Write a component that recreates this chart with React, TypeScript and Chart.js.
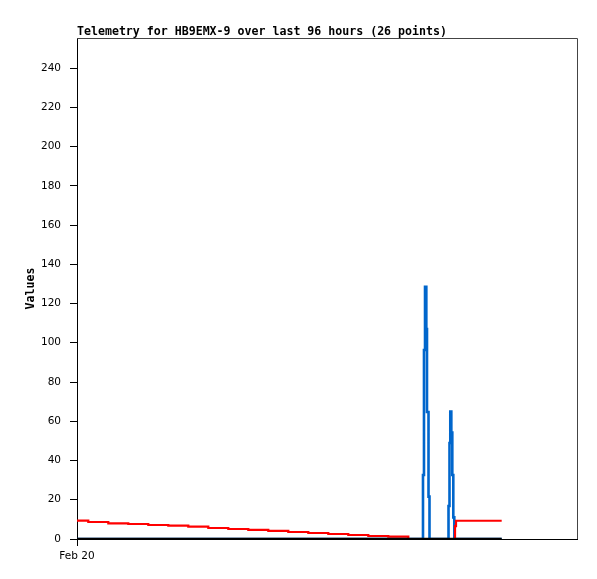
import React, { useEffect, useRef } from 'react';
import { Chart, registerables } from 'chart.js';

Chart.register(...registerables);

const TITLE = 'Telemetry for HB9EMX-9 over last 96 hours (26 points)';
const Y_TITLE = 'Values';
const X_TICK_LABEL = 'Feb 20';

const X_MIN = 0;
const X_MAX = 96;
const Y_MIN = 0;
const Y_MAX = 255.3;
const Y_STEP = 20;
const X_TICKS = [0];

// hours since Feb 20 00:00, step values (value holds until the next point)
const redHours = [0, 2.17, 6.01, 9.85, 13.69, 17.53, 21.37, 25.21, 29.05, 32.89, 36.73, 40.57, 44.41, 48.25, 52.09, 55.93, 59.77, 63.61, 72.58, 72.77, 81.54];
const redValues = [9.33, 8.66, 8.0, 7.64, 7.13, 6.8, 6.28, 5.6, 5.1, 4.6, 4.1, 3.57, 3.06, 2.55, 2.04, 1.53, 1.2, 0, 6.6, 9.3, 9.3];

const blueHours = [0, 66.43, 66.62, 66.82, 67.07, 67.2, 67.49, 67.68, 71.33, 71.52, 71.67, 71.87, 72.06, 72.25, 72.44, 81.54];
const blueValues = [0, 32.6, 96.3, 128.5, 107, 64.7, 21.6, 0, 16.8, 48.9, 64.9, 54.2, 32.6, 11, 0, 0];

const blackHours = [0, 81.54];
const blackValues = [0, 0];

const toPoints = (xs: number[], ys: number[]) => xs.map((x, i) => ({ x, y: ys[i] }));

const decor = {
  id: 'decor',
  afterDraw(chart: any) {
    const { ctx, chartArea: a } = chart;
    ctx.save();
    ctx.strokeStyle = '#444';
    ctx.lineWidth = 1;
    ctx.beginPath();
    ctx.moveTo(a.left, Math.round(a.top) + 0.5);
    ctx.lineTo(Math.round(a.right) + 0.5, Math.round(a.top) + 0.5);
    ctx.lineTo(Math.round(a.right) + 0.5, a.bottom);
    ctx.stroke();
    ctx.fillStyle = '#000';
    ctx.font = 'bold 11.6px "DejaVu Sans Mono"';
    ctx.textAlign = 'left';
    ctx.textBaseline = 'alphabetic';
    ctx.fillText(TITLE, a.left, 35);
    ctx.translate(31, (a.top + a.bottom) / 2);
    ctx.rotate(-Math.PI / 2);
    ctx.textAlign = 'center';
    ctx.textBaseline = 'middle';
    ctx.fillText(Y_TITLE, 0, 0);
    ctx.restore();
  },
};

export default function App() {
  const ref = useRef<HTMLCanvasElement | null>(null);
  useEffect(() => {
    if (!ref.current) return;
    const tickFont = { family: '"DejaVu Sans"', size: 10.5 };
    const chart = new Chart(ref.current, {
      type: 'line',
      data: {
        datasets: [
          {
            label: 'black',
            data: toPoints(blackHours, blackValues),
            borderColor: '#000000',
            borderWidth: 2.5,
            stepped: true,
            pointRadius: 0,
            order: 0,
          },
          {
            label: 'red',
            data: toPoints(redHours, redValues),
            borderColor: '#ff0000',
            borderWidth: 2.2,
            stepped: true,
            pointRadius: 0,
            order: 1,
          },
          {
            label: 'blue',
            data: toPoints(blueHours, blueValues),
            borderColor: '#0066cc',
            borderWidth: 2.6,
            stepped: true,
            pointRadius: 0,
            order: 2,
          },
        ],
      },
      options: {
        responsive: false,
        animation: false,
        devicePixelRatio: 1,
        layout: { padding: { top: 38, right: 20, left: 0, bottom: 0 } },
        plugins: { legend: { display: false }, title: { display: false }, tooltip: { enabled: false } },
        scales: {
          x: {
            type: 'linear',
            min: X_MIN,
            max: X_MAX,
            afterBuildTicks: (s: any) => {
              s.ticks = X_TICKS.map((v) => ({ value: v }));
            },
            afterFit: (s: any) => {
              s.height = 40;
            },
            ticks: {
              color: '#000',
              font: tickFont,
              padding: 4,
              maxRotation: 0,
              autoSkip: false,
              callback: () => X_TICK_LABEL,
            },
            grid: { drawOnChartArea: false, drawTicks: true, tickLength: 7, color: '#000' },
            border: { color: '#000', width: 1 },
          },
          y: {
            type: 'linear',
            min: Y_MIN,
            max: Y_MAX,
            afterFit: (s: any) => {
              s.width = 77;
            },
            ticks: {
              stepSize: Y_STEP,
              includeBounds: false,
              color: '#000',
              font: tickFont,
              padding: 9,
            },
            grid: { drawOnChartArea: false, drawTicks: true, tickLength: 7, color: '#000' },
            border: { color: '#000', width: 1 },
          },
        },
      },
      plugins: [decor],
    } as any);
    return () => chart.destroy();
  }, []);
  return (
    <div style={{ position: 'fixed', left: 0, top: 0, width: 597, height: 579, background: '#fff' }}>
      <canvas ref={ref} width={597} height={579} style={{ display: 'block' }} />
    </div>
  );
}
